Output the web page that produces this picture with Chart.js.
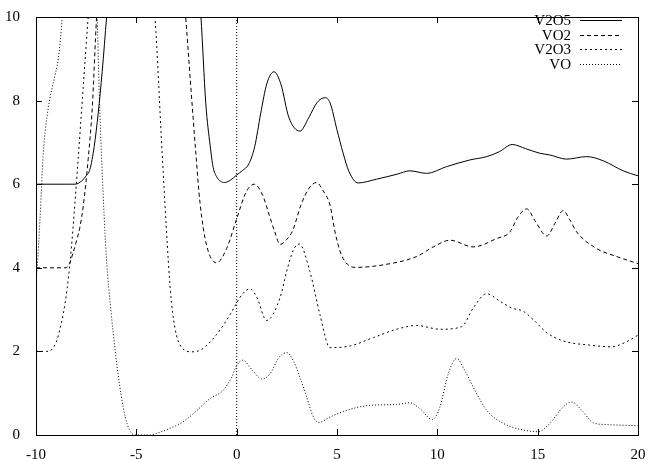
<!DOCTYPE html>
<html>
<head>
<meta charset="utf-8">
<script src="https://cdn.jsdelivr.net/npm/chart.js@4.4.1/dist/chart.umd.min.js"></script>
<style>
  html, body { margin: 0; padding: 0; background: #fff; }
  #box { width: 659px; height: 459px; }
</style>
</head>
<body>
<div id="box"><canvas id="grafico"></canvas></div>
<script>
// valores (energia x densidade de estados, com deslocamento)
const xV2O5 = [-10, -8.3, -8.05, -7.72, -7.5, -7.31, -7.1, -6.9, -6.7, -6.48, -6.2, -4, -2.2, -1.78, -1.54, -1.32, -1.17, -1.0, -0.8, -0.6, -0.3, 0, 0.3, 0.6, 0.9, 1.2, 1.5, 1.86, 2.2, 2.6, 3.15, 3.6, 4.0, 4.4, 4.65, 5.0, 5.3, 5.6, 6.05, 6.97, 8.0, 8.63, 9.46, 10.46, 11.62, 12.46, 13.1, 13.73, 14.4, 15.11, 15.6, 16.44, 17.44, 18.27, 19.26, 20];
const yV2O5 = [6.0, 6.0, 6.0, 6.08, 6.2, 6.36, 6.9, 7.7, 8.7, 10, 11.5, 16, 12.5, 10, 7.94, 6.92, 6.4, 6.18, 6.07, 6.04, 6.1, 6.22, 6.33, 6.48, 6.9, 7.7, 8.4, 8.69, 8.4, 7.6, 7.27, 7.6, 7.95, 8.07, 7.95, 7.3, 6.75, 6.3, 6.03, 6.12, 6.24, 6.32, 6.26, 6.42, 6.58, 6.66, 6.78, 6.95, 6.85, 6.74, 6.7, 6.6, 6.66, 6.56, 6.32, 6.2];

const xVO2 = [-10, -8.6, -8.39, -8.14, -7.95, -7.8, -7.64, -7.4, -7.2, -6.98, -6.6, -4.5, -3.0, -2.54, -2.03, -1.83, -1.5, -1.0, -0.5, 0, 0.47, 0.88, 1.3, 1.63, 1.9, 2.16, 2.5, 2.8, 3.2, 3.6, 3.98, 4.3, 4.65, 4.9, 5.15, 5.4, 5.9, 7.3, 8.97, 9.8, 10.63, 11.79, 12.95, 13.62, 14.0, 14.45, 14.9, 15.45, 15.9, 16.27, 16.6, 16.94, 17.94, 18.93, 20];
const yVO2 = [4.0, 4.0, 4.04, 4.38, 4.7, 5.0, 5.5, 6.6, 7.8, 10, 12.5, 16, 13, 10, 6.71, 5.57, 4.54, 4.12, 4.46, 5.17, 5.81, 6.0, 5.73, 5.25, 4.86, 4.56, 4.68, 4.9, 5.5, 5.9, 6.04, 5.85, 5.5, 4.86, 4.4, 4.15, 4.01, 4.07, 4.27, 4.5, 4.66, 4.5, 4.7, 4.86, 5.2, 5.41, 5.1, 4.76, 5.1, 5.37, 5.15, 4.86, 4.46, 4.27, 4.1];

const xV2O3 = [-10, -9.47, -9.2, -8.97, -8.8, -8.64, -8.45, -8.31, -8.17, -7.9, -7.65, -7.4, -7.0, -5.5, -4.5, -4.07, -3.71, -3.3, -3.08, -2.74, -2.24, -1.74, -0.99, -0.33, 0, 0.3, 0.66, 1.0, 1.49, 2.16, 2.49, 2.82, 3.12, 3.65, 4.15, 4.65, 5.65, 6.81, 7.97, 8.97, 10.13, 11.21, 11.79, 12.46, 13.12, 13.7, 14.28, 14.78, 15.45, 16.27, 17.6, 18.68, 19.34, 20];
const yV2O3 = [2.0, 2.0, 2.05, 2.25, 2.55, 2.9, 3.5, 4.1, 4.86, 6.6, 8.3, 10, 12.5, 15, 12, 10, 6.71, 3.44, 2.57, 2.09, 1.99, 2.05, 2.41, 2.88, 3.16, 3.38, 3.5, 3.3, 2.74, 3.28, 3.91, 4.42, 4.57, 3.91, 2.88, 2.09, 2.13, 2.33, 2.53, 2.62, 2.53, 2.59, 3.04, 3.38, 3.2, 3.04, 2.96, 2.76, 2.45, 2.25, 2.15, 2.11, 2.21, 2.39];

const xVO = [-10, -9.94, -9.8, -9.64, -9.39, -9.05, -8.89, -8.69, -8.3, -7.5, -7.15, -6.95, -6.85, -6.72, -6.5, -6.25, -6.05, -5.85, -5.65, -5.45, -5.25, -5.0, -4.3, -3.99, -3.32, -2.66, -2.16, -1.33, -0.67, -0.25, 0, 0.3, 0.8, 1.25, 1.66, 2.1, 2.5, 2.82, 3.15, 3.49, 3.82, 4.1, 4.65, 5.48, 6.64, 7.97, 8.63, 9.13, 9.75, 10.13, 10.54, 10.96, 11.37, 11.87, 12.46, 13.28, 14.28, 15.03, 15.61, 16.27, 16.69, 17.27, 17.77, 18.43, 20];
const yVO = [3.7, 4.0, 5.17, 6.71, 7.82, 8.61, 9.0, 10, 13, 14, 12, 10, 8.2, 6.5, 4.3, 2.9, 2.0, 1.25, 0.65, 0.25, 0.05, 0, 0, 0.04, 0.16, 0.32, 0.51, 0.87, 1.07, 1.38, 1.66, 1.79, 1.54, 1.34, 1.46, 1.85, 1.97, 1.78, 1.38, 0.91, 0.43, 0.3, 0.43, 0.59, 0.71, 0.73, 0.77, 0.63, 0.37, 0.67, 1.46, 1.83, 1.54, 1.07, 0.59, 0.28, 0.12, 0.08, 0.28, 0.67, 0.79, 0.55, 0.29, 0.25, 0.22];

// linha vertical do nível de Fermi
const xFermi = [0, 0];
const yFermi = [0, 10];

const nomes = ['V2O5', 'VO2', 'V2O3', 'VO'];
const tracos = [[], [4, 3], [2, 3], [1, 2]];
const xTicks = [-10, -5, 0, 5, 10, 15, 20];
const yTicks = [0, 2, 4, 6, 8, 10];

const fonte = '"Liberation Serif", "DejaVu Serif", serif';

function pontos(xs, ys) {
    return xs.map((x, i) => ({ x: x, y: ys[i] }));
}

const series = [[xV2O5, yV2O5], [xVO2, yVO2], [xV2O3, yV2O3], [xVO, yVO]];
const datasets = series.map((s, i) => ({
    label: nomes[i],
    data: pontos(s[0], s[1]),
    showLine: true,
    borderColor: '#000',
    borderWidth: 1,
    borderDash: tracos[i],
    pointRadius: 0,
    cubicInterpolationMode: 'monotone',
    fill: false
}));
datasets.push({
    label: 'fermi',
    data: pontos(xFermi, yFermi),
    showLine: true,
    borderColor: '#000',
    borderWidth: 1,
    borderDash: [1, 2],
    pointRadius: 0
});

// moldura, ticks para dentro nos quatro lados e legenda estilo gnuplot
const molduraPlugin = {
    id: 'moldura',
    afterDraw(chart) {
        const ctx = chart.ctx;
        const a = chart.chartArea;
        const sx = chart.scales.x, sy = chart.scales.y;
        ctx.save();
        ctx.strokeStyle = '#000';
        ctx.lineWidth = 1;
        ctx.setLineDash([]);
        ctx.strokeRect(Math.round(a.left) + 0.5, Math.round(a.top) + 0.5,
            Math.round(a.right - a.left), Math.round(a.bottom - a.top));
        ctx.beginPath();
        xTicks.forEach(v => {
            const px = Math.round(sx.getPixelForValue(v)) + 0.5;
            ctx.moveTo(px, a.bottom); ctx.lineTo(px, a.bottom - 6);
            ctx.moveTo(px, a.top); ctx.lineTo(px, a.top + 6);
        });
        yTicks.forEach(v => {
            const py = Math.round(sy.getPixelForValue(v)) + 0.5;
            ctx.moveTo(a.left, py); ctx.lineTo(a.left + 6, py);
            ctx.moveTo(a.right, py); ctx.lineTo(a.right - 6, py);
        });
        ctx.stroke();

        // legenda
        ctx.font = '15px ' + fonte;
        ctx.fillStyle = '#000';
        ctx.textAlign = 'right';
        ctx.textBaseline = 'middle';
        nomes.forEach((n, i) => {
            const yy = Math.round(20 + i * 14.7);
            ctx.fillText(n, 571, yy + 1);
            ctx.setLineDash(tracos[i]);
            ctx.beginPath();
            ctx.moveTo(580, yy + 0.5);
            ctx.lineTo(622, yy + 0.5);
            ctx.stroke();
        });
        ctx.restore();
    }
};

const config = {
    type: 'scatter',
    data: { datasets: datasets },
    options: {
        responsive: true,
        maintainAspectRatio: false,
        animation: false,
        layout: { padding: { top: 13, right: 21, left: 0, bottom: 0 } },
        plugins: {
            legend: { display: false },
            tooltip: { enabled: false }
        },
        scales: {
            x: {
                type: 'linear',
                min: -10,
                max: 20,
                afterFit: s => { s.height = 24; },
                afterBuildTicks: s => { s.ticks = xTicks.map(v => ({ value: v })); },
                grid: { display: false },
                border: { display: false },
                ticks: {
                    color: '#000',
                    padding: 3,
                    maxRotation: 0,
                    font: { family: fonte, size: 15 }
                }
            },
            y: {
                min: 0,
                max: 10,
                afterFit: s => { s.width = 36; },
                afterBuildTicks: s => { s.ticks = yTicks.map(v => ({ value: v })); },
                grid: { display: false },
                border: { display: false },
                ticks: {
                    color: '#000',
                    padding: 8,
                    font: { family: fonte, size: 15 }
                }
            }
        }
    },
    plugins: [molduraPlugin]
};

let myChart = new Chart(document.getElementById('grafico'), config);
</script>
</body>
</html>
